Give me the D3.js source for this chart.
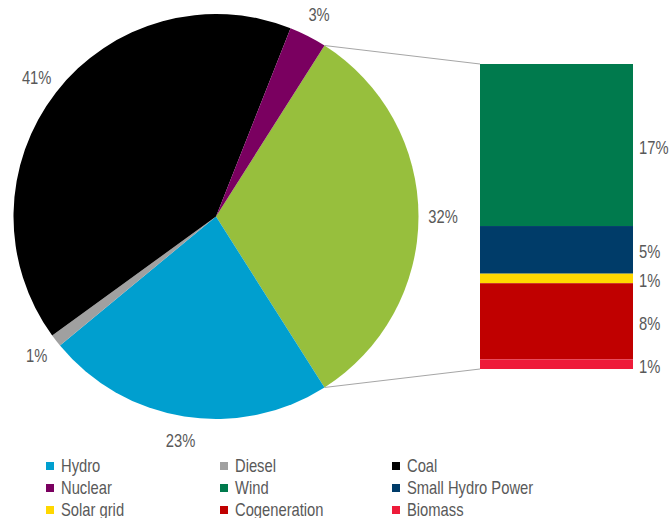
<!DOCTYPE html>
<html>
<head>
<meta charset="utf-8">
<script src="https://cdn.jsdelivr.net/npm/d3@7"></script>
<style>
  body { margin: 0; background: #fff; }
  text { font-family: "Liberation Sans", Arial, sans-serif; fill: #595959; }
</style>
</head>
<body>
<div id="chart"></div>
<script>
// pie slices, clockwise starting with the slice that is broken out
const pieNames = ['Other', 'Hydro', 'Diesel', 'Coal', 'Nuclear'];
const pieValues = [32, 23, 1, 41, 3];
const pieColors = ['#97BF3D', '#009FCF', '#A0A0A0', '#000000', '#7A0060'];

// breakdown bar, top to bottom
const barNames = ['Wind', 'Small Hydro Power', 'Solar grid', 'Cogeneration', 'Biomass'];
const barValues = [17, 5, 1, 8, 1];
const barColors = ['#007A4D', '#003C69', '#FFD700', '#C00000', '#EE1B3A'];

const legendNames = ['Hydro', 'Diesel', 'Coal', 'Nuclear', 'Wind', 'Small Hydro Power', 'Solar grid', 'Cogeneration', 'Biomass'];
const legendColors = ['#009FCF', '#A0A0A0', '#000000', '#7A0060', '#007A4D', '#003C69', '#FFD700', '#C00000', '#EE1B3A'];

const width = 670, height = 518;
const cx = 216, cy = 216.5, radius = 202.5, labelRadius = 227;
const narrow = 0.82; // no narrow font installed, so squeeze the text horizontally

const svg = d3.select('#chart').append('svg')
    .attr('width', width)
    .attr('height', height);

// rotate so the broken-out slice is centred on 3 o'clock
const otherShare = pieValues[0] / d3.sum(pieValues);
const start = Math.PI / 2 - otherShare * Math.PI;

const pie = d3.pie().sort(null).value(d => d)
    .startAngle(start).endAngle(start + 2 * Math.PI);
const arcs = pie(pieValues);
const arc = d3.arc().innerRadius(0).outerRadius(radius);

const g = svg.append('g').attr('transform', `translate(${cx},${cy})`);

g.selectAll('.slice')
    .data(arcs)
    .enter()
    .append('path')
    .attr('class', 'slice')
    .attr('d', arc)
    .attr('fill', (d, i) => pieColors[i]);

const total = d3.sum(pieValues);
g.selectAll('.pie-label')
    .data(arcs)
    .enter()
    .append('text')
    .attr('class', 'pie-label')
    .attr('transform', d => {
        const a = (d.startAngle + d.endAngle) / 2;
        return `translate(${labelRadius * Math.sin(a)},${-labelRadius * Math.cos(a)}) scale(${narrow},1)`;
    })
    .attr('text-anchor', 'middle')
    .attr('dominant-baseline', 'central')
    .attr('font-size', 18)
    .text(d => Math.round(d.value / total * 100) + '%');

// bar of pie
const barX = d3.scaleLinear().domain([0, 1]).range([480, 633]);
const barY = d3.scaleLinear().domain([0, d3.sum(barValues)]).range([64, 369]);

let acc = 0;
const stacked = barValues.map((v, i) => {
    const s = { name: barNames[i], value: v, y0: acc, y1: acc + v, color: barColors[i] };
    acc += v;
    return s;
});

svg.selectAll('.seg')
    .data(stacked)
    .enter()
    .append('rect')
    .attr('class', 'seg')
    .attr('x', barX(0))
    .attr('y', d => barY(d.y0))
    .attr('width', barX(1) - barX(0))
    .attr('height', d => barY(d.y1) - barY(d.y0))
    .attr('fill', d => d.color);

svg.selectAll('.bar-label')
    .data(stacked)
    .enter()
    .append('text')
    .attr('class', 'bar-label')
    .attr('transform', d => `translate(${barX(1) + 6},${(barY(d.y0) + barY(d.y1)) / 2 + 2}) scale(${narrow},1)`)
    .attr('dominant-baseline', 'central')
    .attr('font-size', 18)
    .text(d => d.value + '%');

// connector lines from the broken-out slice to the bar
const o = arcs[0];
const p1 = [cx + radius * Math.sin(o.startAngle), cy - radius * Math.cos(o.startAngle)];
const p2 = [cx + radius * Math.sin(o.endAngle), cy - radius * Math.cos(o.endAngle)];
svg.append('line')
    .attr('x1', p1[0]).attr('y1', p1[1])
    .attr('x2', barX(0)).attr('y2', barY(0))
    .attr('stroke', '#A6A6A6').attr('stroke-width', 1);
svg.append('line')
    .attr('x1', p2[0]).attr('y1', p2[1])
    .attr('x2', barX(0)).attr('y2', barY(d3.sum(barValues)))
    .attr('stroke', '#A6A6A6').attr('stroke-width', 1);

// legend, 3 columns
const colX = [46, 220, 392];
const rowY = [462, 484, 506];
const legend = svg.selectAll('.legend')
    .data(legendNames)
    .enter()
    .append('g')
    .attr('class', 'legend')
    .attr('transform', (d, i) => `translate(${colX[i % 3]},${rowY[Math.floor(i / 3)]})`);

legend.append('rect')
    .attr('width', 8)
    .attr('height', 8)
    .attr('fill', (d, i) => legendColors[i]);

legend.append('text')
    .attr('transform', `translate(15,9.5) scale(${narrow},1)`)
    .attr('font-size', 18)
    .text(d => d);
</script>
</body>
</html>
